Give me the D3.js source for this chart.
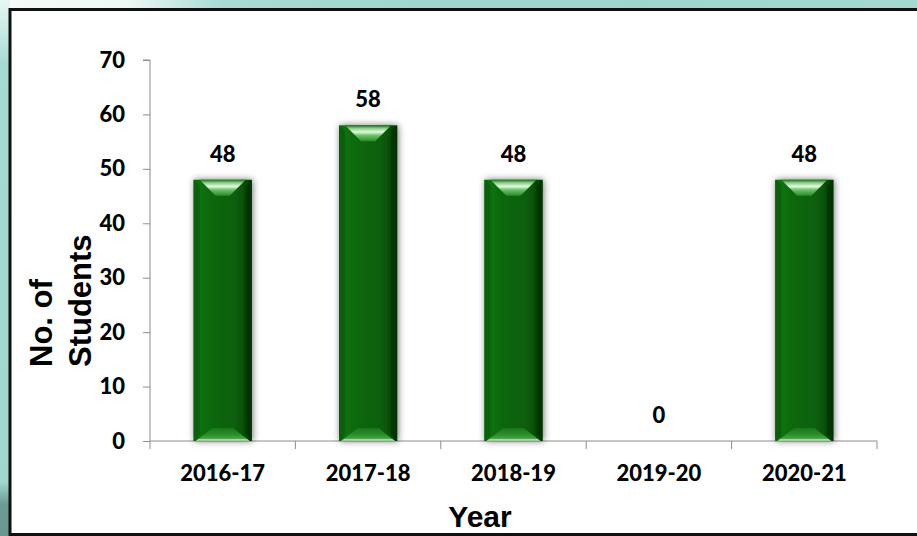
<!DOCTYPE html>
<html>
<head>
<meta charset="utf-8">
<script src="https://cdn.jsdelivr.net/npm/d3@7"></script>
<style>
html,body{margin:0;padding:0;overflow:hidden;}
body{width:917px;height:536px;background:#a1d8d0;}
</style>
</head>
<body>
<svg id="chart" width="917" height="536"></svg>
<script>
const categories = ["2016-17", "2017-18", "2018-19", "2019-20", "2020-21"];
const values = [48, 58, 48, 0, 48];
const yTicks = [0, 10, 20, 30, 40, 50, 60, 70];
const yTitleLines = ["No. of", "Students"];
const xTitle = "Year";

const svg = d3.select("#chart");
const defs = svg.append("defs");

// background
const bg = defs.append("linearGradient").attr("id","bgTop").attr("x1","0").attr("x2","1").attr("y1","0").attr("y2","0");
bg.append("stop").attr("offset","0").attr("stop-color","#f4fbfa");
bg.append("stop").attr("offset","0.14").attr("stop-color","#eef8f6");
bg.append("stop").attr("offset","0.24").attr("stop-color","#a8dcd4");
bg.append("stop").attr("offset","0.45").attr("stop-color","#9fd7cf");
bg.append("stop").attr("offset","0.7").attr("stop-color","#9ed6ce");
bg.append("stop").attr("offset","1").attr("stop-color","#a3d9d1");
svg.append("rect").attr("x",0).attr("y",0).attr("width",917).attr("height",12).attr("fill","url(#bgTop)");
const bgL = defs.append("linearGradient").attr("id","bgLeft").attr("x1","0").attr("x2","0").attr("y1","0").attr("y2","1");
bgL.append("stop").attr("offset","0").attr("stop-color","#e8f6f3");
bgL.append("stop").attr("offset","0.12").attr("stop-color","#a6dbd3");
bgL.append("stop").attr("offset","0.9").attr("stop-color","#9fd6ce");
bgL.append("stop").attr("offset","0.94").attr("stop-color","#6d9c96");
bgL.append("stop").attr("offset","1").attr("stop-color","#6a9690");
svg.append("rect").attr("x",0).attr("y",0).attr("width",10).attr("height",536).attr("fill","url(#bgLeft)");

// frame
svg.append("rect").attr("x",10).attr("y",9.5).attr("width",930).attr("height",525)
  .attr("fill","#ffffff").attr("stroke","#111").attr("stroke-width",3);

const x0 = 150, x1 = 877, yTop = 60, yBot = 441;
const x = d3.scaleBand().domain(categories).range([x0, x1]).paddingInner(0.6).paddingOuter(0.3);
const y = d3.scaleLinear().domain([0, 70]).range([yBot, yTop]);

const font = "Lato, 'Open Sans', sans-serif";

// y axis
const yAxis = d3.axisLeft(y).tickValues(yTicks).tickSize(7).tickPadding(18).tickFormat(d3.format("d"));
const gy = svg.append("g").attr("transform",`translate(${x0},0)`).call(yAxis);
gy.select(".domain").attr("stroke","#8c8c8c").attr("d",`M-7,${yTop}H0V${yBot}`);
gy.selectAll(".tick line").attr("stroke","#8c8c8c");
gy.selectAll(".tick text").attr("font-family",font).attr("font-weight","900").attr("font-size","22px").attr("fill","#000");

// x axis
const xAxis = d3.axisBottom(x).tickSize(0).tickPadding(24);
const gx = svg.append("g").attr("transform",`translate(0,${yBot})`).call(xAxis);
gx.select(".domain").attr("stroke","#8c8c8c").attr("d",`M${x0},0H${x1}`);
gx.selectAll(".tick text").attr("font-family",font).attr("font-weight","900").attr("font-size","22px").attr("fill","#000");
const bounds = d3.range(categories.length + 1).map(i => x0 + i * x.step());
gx.selectAll(".bound").data(bounds).enter().append("line")
  .attr("x1",d=>d).attr("x2",d=>d).attr("y1",0).attr("y2",8).attr("stroke","#8c8c8c");

// gradients for bars
const face = defs.append("linearGradient").attr("id","face").attr("x1","0").attr("x2","1").attr("y1","0").attr("y2","0");
[["0","#0b640b"],["0.12","#0e7210"],["0.3","#0b680b"],["0.7","#096009"],["0.88","#064e06"],["1","#033603"]]
  .forEach(s=>face.append("stop").attr("offset",s[0]).attr("stop-color",s[1]));
const topG = defs.append("linearGradient").attr("id","topbev").attr("x1","0").attr("x2","0").attr("y1","0").attr("y2","1");
[["0","#1f6f1f"],["0.2","#8fd08b"],["0.42","#e4f8e0"],["0.62","#6fc46c"],["1","#2a8a2a"]]
  .forEach(s=>topG.append("stop").attr("offset",s[0]).attr("stop-color",s[1]));
const botG = defs.append("linearGradient").attr("id","botbev").attr("x1","0").attr("x2","0").attr("y1","0").attr("y2","1");
[["0","#187818"],["0.5","#2c8c2c"],["0.8","#45a245"],["0.9","#b8e6b4"],["1","#7cc67a"]]
  .forEach(s=>botG.append("stop").attr("offset",s[0]).attr("stop-color",s[1]));
const f = defs.append("filter").attr("id","shadow").attr("x","-30%").attr("y","-10%").attr("width","160%").attr("height","120%");
f.append("feDropShadow").attr("dx",1).attr("dy",0).attr("stdDeviation",3.5).attr("flood-color","#000").attr("flood-opacity",0.55);

const data = categories.map((c,i)=>({c, v: values[i]}));
const bars = svg.append("g").selectAll("g").data(data.filter(d=>d.v>0)).enter().append("g");
bars.each(function(d){
  const g = d3.select(this);
  const bx = x(d.c), bw = x.bandwidth(), by = y(d.v), bb = y(0), bh = bb - by;
  const tb = 16, sb = 6, btb = 13;
  g.append("rect").attr("x",bx).attr("y",by).attr("width",bw).attr("height",bh)
    .attr("fill","url(#face)").attr("filter","url(#shadow)");
  g.append("polygon").attr("points",[[bx,by],[bx+sb,by+sb],[bx+sb,bb-sb],[bx,bb]].join(" "))
    .attr("fill","#0b5f0b").attr("opacity",0.9);
  g.append("polygon").attr("points",[[bx+bw,by],[bx+bw-sb,by+sb],[bx+bw-sb,bb-sb],[bx+bw,bb]].join(" "))
    .attr("fill","#033203").attr("opacity",0.9);
  g.append("polygon").attr("points",[[bx+sb,by],[bx+bw-sb,by],[bx+bw-sb-tb,by+tb],[bx+sb+tb,by+tb]].join(" "))
    .attr("fill","url(#topbev)");
  g.append("polygon").attr("points",[[bx+sb+btb,bb-btb],[bx+bw-sb-btb,bb-btb],[bx+bw-2,bb],[bx+2,bb]].join(" "))
    .attr("fill","url(#botbev)");
});

// value labels
svg.append("g").selectAll("text").data(data).enter().append("text")
  .attr("x",d=>x(d.c)+x.bandwidth()/2).attr("y",d=>y(d.v)-18)
  .attr("text-anchor","middle").attr("font-family",font).attr("font-weight","900")
  .attr("font-size","22px").attr("fill","#000").text(d=>d.v);

// axis titles
svg.append("text").attr("x",480).attr("y",527).attr("text-anchor","middle")
  .attr("font-family","'Liberation Sans', Arial, sans-serif").attr("font-weight","bold")
  .attr("font-size","30px").attr("fill","#000").text(xTitle);
const yt = svg.append("text").attr("transform","translate(52,367) rotate(-90)")
  .attr("font-family","'Liberation Sans', Arial, sans-serif").attr("font-weight","bold")
  .attr("font-size","31px").attr("fill","#000");
yTitleLines.forEach((t,i)=>yt.append("tspan").attr("x",0).attr("y",i*39).text(t));
</script>
</body>
</html>
